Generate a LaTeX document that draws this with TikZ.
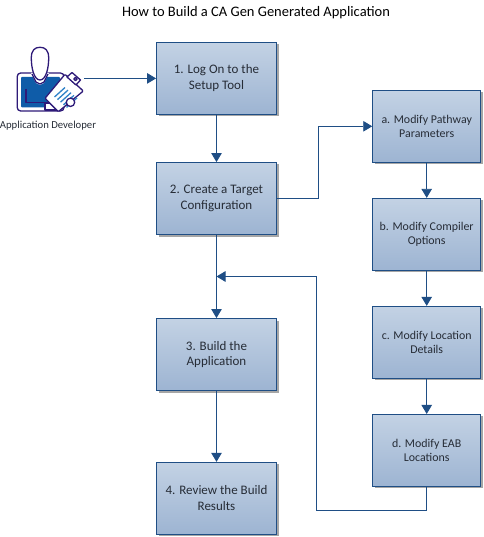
\documentclass[tikz,border=0pt]{standalone}
\usepackage{fontspec}
\setmainfont{Carlito}
\usetikzlibrary{arrows.meta}
\definecolor{edgeblue}{HTML}{1F4E85}
\definecolor{boxtop}{HTML}{C3D2E4}
\definecolor{boxbot}{HTML}{9DB4D2}
\definecolor{shadowgrey}{HTML}{A6A6A6}
\definecolor{iconline}{HTML}{2E1A78}
\definecolor{iconblue}{HTML}{0F5CA8}
\definecolor{stripeblue}{HTML}{2F82C8}
\definecolor{texthue}{HTML}{262C36}
\tikzset{
  stepbox/.style={draw=edgeblue,line width=0.9pt,top color=boxtop,bottom color=boxbot,
    minimum width=120pt,minimum height=72pt,align=center,inner sep=2pt,
    font=\fontsize{13}{15.8}\selectfont,text=texthue,
    preaction={fill=shadowgrey,draw=none,transform canvas={xshift=2pt,yshift=-2pt}}},
  subbox/.style={stepbox,minimum width=108pt,font=\fontsize{11.9}{14.6}\selectfont},
  flow/.style={draw=edgeblue,line width=0.9pt,-{Triangle[length=9pt,width=10.5pt]}},
  iconstroke/.style={draw=iconline,line width=1.3pt,line join=round}
}
\begin{document}
\begin{tikzpicture}[x=1pt,y=-1pt]
\useasboundingbox (0,0) rectangle (483,537);
\node[font=\fontsize{14.5}{17}\selectfont,text=black] (title) at (256,12.5) {How to Build a CA Gen Generated Application};

\node[stepbox] (s1) at (216.5,78.4) {1. Log On to the\\Setup Tool};
\node[stepbox] (s2) at (216.5,198.5) {2. Create a Target\\Configuration};
\node[stepbox] (s3) at (216.5,354.5) {3. Build the\\Application};
\node[stepbox] (s4) at (216.5,498.3) {4. Review the Build\\Results};
\node[subbox] (a) at (426.7,126.3) {a. Modify Pathway\\Parameters};
\node[subbox] (b) at (426.7,234.3) {b. Modify Compiler\\Options};
\node[subbox] (c) at (426.7,342.3) {c. Modify Location\\Details};
\node[subbox] (d) at (426.7,450.4) {d. Modify EAB\\Locations};

% actor icon
\draw[iconstroke,fill=white,rounded corners=3.5pt] (17.2,73) -- (64,73) -- (64,111) -- (17.2,111) -- cycle;
\fill[iconblue,rounded corners=1pt] (21,77) -- (60,77) -- (60,107.5) -- (21,107.5) -- cycle;
\draw[iconstroke] (26,89) -- (26,102.5) -- (50,102.5);
\fill[white] (31,73) -- (49,73) -- (44,83) -- (40,85) -- (36,83) -- cycle;
\draw[iconstroke] (32,74) -- (36,82) -- (40,84) -- (44,82) -- (48,74);
\draw[iconstroke,fill=white] (31.3,58) .. controls (31.3,50) and (35,47.3) .. (40,47.3)
  .. controls (45,47.3) and (48.7,50) .. (48.7,58)
  .. controls (48.7,68) and (46,80) .. (40,80)
  .. controls (34,80) and (31.3,68) .. (31.3,58) -- cycle;
\draw[iconstroke,fill=white] (45,103.3) rectangle (57.5,110);
\draw[iconstroke,fill=white,rounded corners=1pt] (45,98.3) -- (65,74.3) -- (83.3,91) -- (58.3,111.7) -- cycle;
\draw[iconstroke,fill=white] (67,77) -- (72,72.5) -- (80.5,80) -- (76,85) -- cycle;
\draw[iconstroke,fill=white] (75.5,79) circle (1.6);
\foreach \i in {0,1,2,3,4}{
  \draw[draw=stripeblue,line width=1.3pt] ({54.5+\i*3},{97+\i*2.6}) -- ++(10.5,-9.5);
}
\draw[iconstroke,fill=white] (70.5,102.3) circle (4.2);

\node[font=\fontsize{10.7}{13}\selectfont,text=texthue] (actorlabel) at (48,126) {Application Developer};
\coordinate (actorout) at (84,78.4);
\coordinate (join) at (216.5,276.5);
\coordinate (elbowup) at (318,198.5);
\coordinate (elbowtop) at (318,126.3);
\coordinate (retbottom) at (426.7,510.3);
\coordinate (retleft) at (316.7,510.3);
\coordinate (rettop) at (316.7,276.5);

\draw[flow] (actorout) -- (s1.west);
\draw[flow] (s1) -- (s2);
\draw[flow] (s2) -- (s3);
\draw[flow] (s3) -- (s4);
\draw[flow] (s2.east) -- (elbowup) -- (elbowtop) -- (a.west);
\draw[flow] (a) -- (b);
\draw[flow] (b) -- (c);
\draw[flow] (c) -- (d);
\draw[flow] (d.south) -- (retbottom) -- (retleft) -- (rettop) -- (join);
\end{tikzpicture}
\end{document}
